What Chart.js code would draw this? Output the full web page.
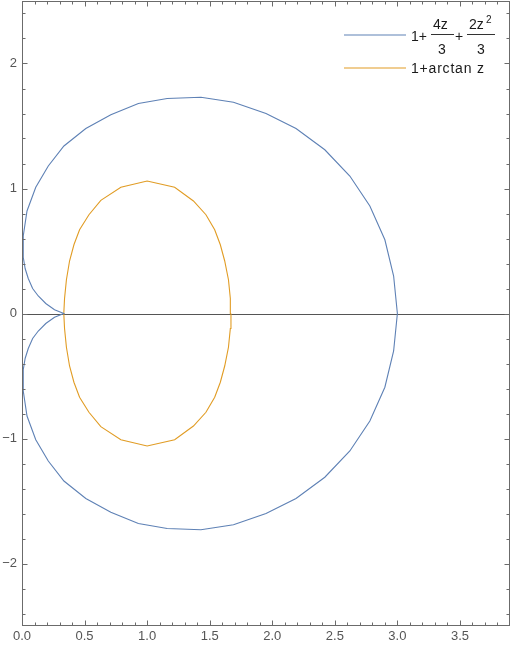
<!DOCTYPE html>
<html>
<head>
<meta charset="utf-8">
<script src="https://cdn.jsdelivr.net/npm/chart.js@4.4.0/dist/chart.umd.min.js"></script>
<style>
    html, body { margin: 0; padding: 0; background: #fff; }
    #wrap { width: 512px; height: 648px; }
</style>
</head>
<body>
<div id="wrap"><canvas id="plot" width="512" height="648"></canvas></div>
<script>
// curve vertices (x = Re, y = Im)
const blueX = [3.00, 2.97, 2.90, 2.78, 2.62, 2.42, 2.19, 1.95, 1.69, 1.43, 1.16, 0.93, 0.71, 0.51, 0.335,
    0.21, 0.11, 0.04, 0.01, 0.01, 0.025, 0.05, 0.085, 0.13, 0.19, 0.26, 0.334,
    0.26, 0.19, 0.13, 0.085, 0.05, 0.025, 0.01, 0.01, 0.04, 0.11, 0.21,
    0.335, 0.51, 0.71, 0.93, 1.16, 1.43, 1.69, 1.95, 2.19, 2.42, 2.62, 2.78, 2.90, 2.97, 3.00];
const blueY = [0, 0.30, 0.59, 0.86, 1.10, 1.31, 1.48, 1.60, 1.69, 1.73, 1.72, 1.68, 1.59, 1.48, 1.34,
    1.18, 1.01, 0.82, 0.62, 0.45, 0.36, 0.28, 0.20, 0.14, 0.08, 0.03, 0,
    -0.03, -0.08, -0.14, -0.20, -0.28, -0.36, -0.45, -0.62, -0.82, -1.01, -1.18,
    -1.34, -1.48, -1.59, -1.68, -1.72, -1.73, -1.69, -1.60, -1.48, -1.31, -1.10, -0.86, -0.59, -0.30, 0];

const orangeX = [1.67, 1.665, 1.65, 1.62, 1.585, 1.54, 1.47, 1.37, 1.22, 1.00, 0.79, 0.63, 0.535, 0.46, 0.415, 0.38, 0.355, 0.34,
    0.334, 0.34, 0.355, 0.38, 0.415, 0.46, 0.535, 0.63, 0.79, 1.00, 1.22, 1.37, 1.47, 1.54, 1.585, 1.62, 1.65, 1.665, 1.67];
const orangeY = [0, 0.12, 0.27, 0.42, 0.55, 0.67, 0.79, 0.90, 1.01, 1.06, 1.01, 0.905, 0.79, 0.67, 0.55, 0.42, 0.27, 0.12,
    0, -0.12, -0.27, -0.42, -0.55, -0.67, -0.79, -0.905, -1.01, -1.06, -1.01, -0.90, -0.79, -0.67, -0.55, -0.42, -0.27, -0.12, 0];

const xTicks = [0, 0.5, 1, 1.5, 2, 2.5, 3, 3.5];
const yTicks = [-2, -1, 0, 1, 2];

const BLUE = '#5e81b5';
const ORANGE = '#e19c24';
const FRAME = '#6b6b6b';

const toPoints = (xs, ys) => xs.map((x, i) => ({ x: x, y: ys[i] }));

// minor tick positions (every 0.1 on x, every 0.2 on y)
const xMinor = [];
for (let i = 1; i < 39; i++) if (i % 5) xMinor.push(i / 10);
const yMinor = [];
for (let i = -12; i <= 12; i++) if (i % 5) yMinor.push(i / 5);

const framePlugin = {
    id: 'frame',
    beforeDatasetsDraw(chart) {
        const { ctx, chartArea: a, scales: { y } } = chart;
        const y0 = Math.round(y.getPixelForValue(0)) + 0.5;
        ctx.save();
        ctx.strokeStyle = '#555';
        ctx.lineWidth = 1;
        ctx.beginPath();
        ctx.moveTo(a.left, y0);
        ctx.lineTo(a.right, y0);
        ctx.stroke();
        ctx.restore();
    },
    afterDraw(chart) {
        const { ctx, chartArea: a, scales: { x, y } } = chart;
        const L = a.left + 0.5, R = a.right - 0.5, T = a.top + 0.5, B = a.bottom - 0.5;
        ctx.save();
        ctx.strokeStyle = FRAME;
        ctx.lineWidth = 1;
        ctx.strokeRect(L, T, R - L, B - T);
        ctx.beginPath();
        const xMark = (v, len) => {
            const px = Math.round(x.getPixelForValue(v)) + 0.5;
            ctx.moveTo(px, B); ctx.lineTo(px, B - len);
            ctx.moveTo(px, T); ctx.lineTo(px, T + len);
        };
        const yMark = (v, len) => {
            const py = Math.round(y.getPixelForValue(v)) + 0.5;
            ctx.moveTo(L, py); ctx.lineTo(L + len, py);
            ctx.moveTo(R, py); ctx.lineTo(R - len, py);
        };
        xTicks.forEach(v => xMark(v, 5));
        xMinor.forEach(v => xMark(v, 3));
        yTicks.forEach(v => yMark(v, 5));
        yMinor.forEach(v => yMark(v, 3));
        ctx.stroke();
        ctx.restore();
    }
};

const legendPlugin = {
    id: 'mmaLegend',
    afterDraw(chart) {
        const ctx = chart.ctx;
        ctx.save();
        ctx.lineWidth = 1.2;
        ctx.strokeStyle = BLUE;
        ctx.beginPath(); ctx.moveTo(344, 35); ctx.lineTo(406, 35); ctx.stroke();
        ctx.strokeStyle = ORANGE;
        ctx.beginPath(); ctx.moveTo(344, 68); ctx.lineTo(406, 68); ctx.stroke();

        ctx.fillStyle = '#1a1a1a';
        ctx.font = '14px "Liberation Sans", Arial, sans-serif';
        ctx.textBaseline = 'alphabetic';
        ctx.textAlign = 'left';
        ctx.fillText('1+', 411, 41);
        ctx.fillText('4z', 433, 29);
        ctx.fillText('+', 455, 41);
        ctx.fillText('2z', 469, 29);
        ctx.textAlign = 'center';
        ctx.fillText('3', 442, 54);
        ctx.fillText('3', 481, 54);
        ctx.textAlign = 'left';
        ctx.font = '10px "Liberation Sans", Arial, sans-serif';
        ctx.fillText('2', 486, 23);

        // fraction bars
        ctx.strokeStyle = '#333';
        ctx.lineWidth = 1;
        ctx.beginPath();
        ctx.moveTo(431, 34.5); ctx.lineTo(454, 34.5);
        ctx.moveTo(467, 34.5); ctx.lineTo(495, 34.5);
        ctx.stroke();

        ctx.font = '14px "Liberation Sans", Arial, sans-serif';
        ctx.letterSpacing = '0.8px';
        ctx.fillText('1+arctan z', 411, 73);
        ctx.restore();
    }
};

const tickFont = { family: '"Liberation Sans", Arial, sans-serif', size: 13 };

new Chart(document.getElementById('plot'), {
    type: 'scatter',
    data: {
        datasets: [
            {
                data: toPoints(blueX, blueY),
                showLine: true,
                borderColor: BLUE,
                borderWidth: 1.1,
                pointRadius: 0,
                fill: false
            },
            {
                data: toPoints(orangeX, orangeY),
                showLine: true,
                borderColor: ORANGE,
                borderWidth: 1.1,
                pointRadius: 0,
                fill: false
            }
        ]
    },
    options: {
        responsive: false,
        animation: false,
        devicePixelRatio: 1,
        layout: { padding: { top: 1, right: 2, left: 0, bottom: 0 } },
        plugins: {
            legend: { display: false },
            tooltip: { enabled: false }
        },
        scales: {
            x: {
                type: 'linear',
                min: 0,
                max: 3.9,
                grid: { display: false, drawTicks: false },
                border: { display: false },
                afterBuildTicks: axis => { axis.ticks = xTicks.map(v => ({ value: v })); },
                afterFit: axis => {
                    axis.height = 22;
                    axis.paddingLeft = 0;
                    axis.paddingRight = 0;
                },
                ticks: {
                    autoSkip: false,
                    maxRotation: 0,
                    padding: 3,
                    color: '#555',
                    font: tickFont,
                    callback: v => Number(v).toFixed(1)
                }
            },
            y: {
                type: 'linear',
                min: -2.5,
                max: 2.5,
                grid: { display: false, drawTicks: false },
                border: { display: false },
                afterBuildTicks: axis => { axis.ticks = yTicks.map(v => ({ value: v })); },
                afterFit: axis => {
                    axis.width = 22;
                    axis.paddingTop = 0;
                    axis.paddingBottom = 0;
                },
                ticks: {
                    autoSkip: false,
                    padding: 5,
                    color: '#555',
                    font: tickFont,
                    callback: v => v < 0 ? '\u2212' + (-v) : String(v)
                }
            }
        }
    },
    plugins: [framePlugin, legendPlugin]
});
</script>
</body>
</html>
